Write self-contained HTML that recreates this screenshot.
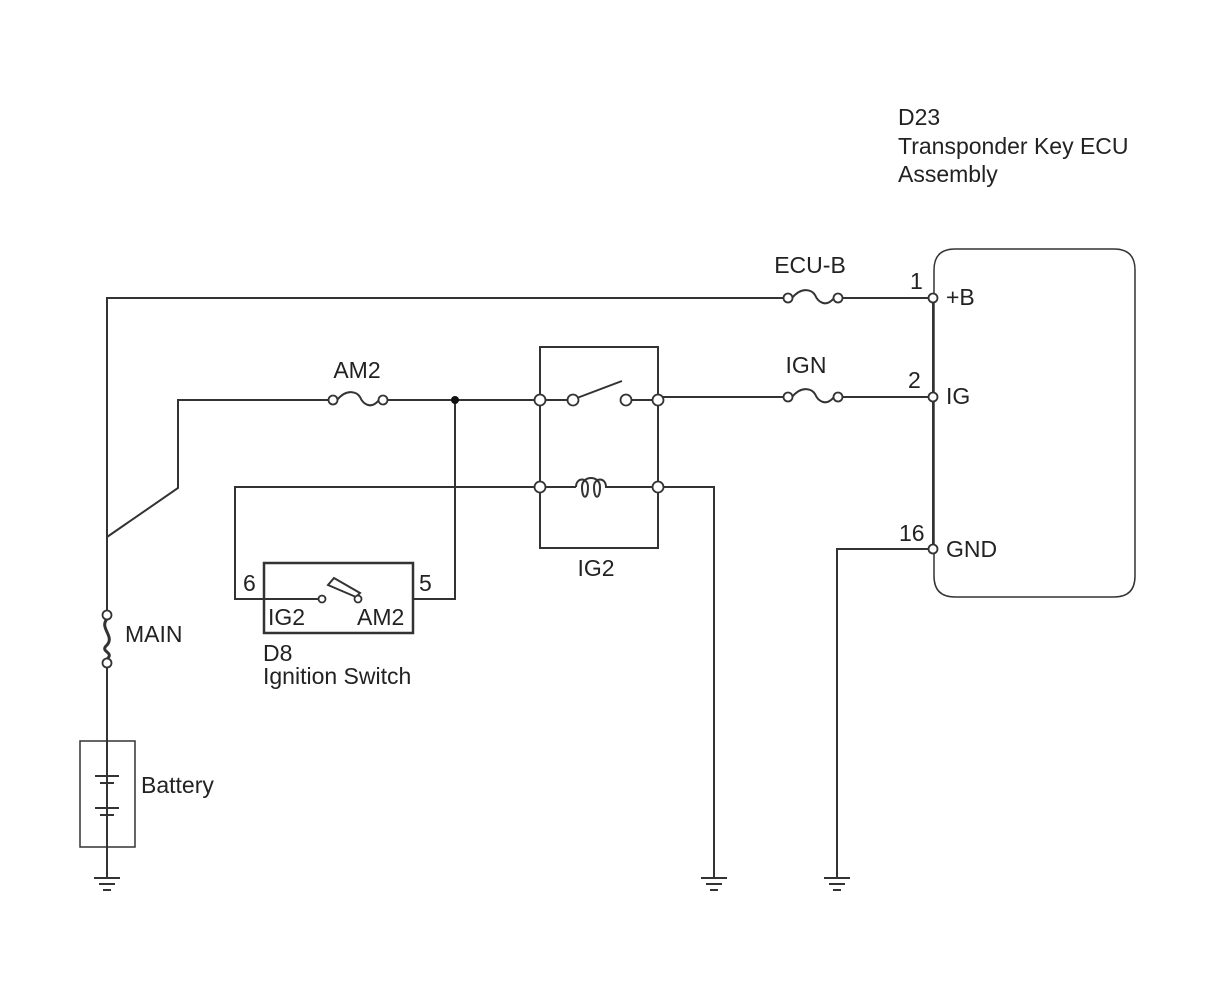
<!DOCTYPE html>
<html><head><style>
html,body{margin:0;padding:0;background:#fff;}
svg{display:block;}
text{font-family:"Liberation Sans",Arial,sans-serif;font-size:23px;fill:#222;}
</style></head><body>
<svg width="1210" height="986" viewBox="0 0 1210 986" xmlns="http://www.w3.org/2000/svg">
<g stroke="#333" stroke-width="2" fill="none">
<polyline points="107,615 107,298 784,298"/>
<line x1="842" y1="298" x2="929" y2="298"/>
<path d="M792,298 C802,286 812,290 815,295 C818,302 826,308 834,298"/>
<polyline points="107,537 178,488 178,400 329,400"/>
<line x1="387" y1="400" x2="536" y2="400"/>
<path d="M337,400 C347,388 357,392 360,397 C363,404 371,410 379,400"/>
<polyline points="455,400 455,599 413,599"/>
<polyline points="540,400 540,347 658,347 658,548 540,548 540,400"/>
<line x1="544" y1="400" x2="569" y2="400"/>
<line x1="577" y1="398" x2="622" y2="381"/>
<line x1="630" y1="400" x2="654" y2="400"/>
<line x1="544" y1="487" x2="576" y2="487"/>
<path d="M576,487 C576,477 588,477 588,487 C588,500 582,500 582,487 C582,475 600,475 600,487 C600,500 594,500 594,487 C594,477 606,477 606,487 L654,487"/>
<line x1="662" y1="397" x2="784" y2="397"/>
<line x1="842" y1="397" x2="929" y2="397"/>
<path d="M792,397 C802,385 812,389 815,394 C818,401 826,407 834,397"/>
<polyline points="536,487 235,487 235,599 264,599"/>
<polyline points="662,487 714,487 714,878"/>
<rect x="264" y="563" width="149" height="70" stroke-width="2.5"/>
<line x1="264" y1="599" x2="318" y2="599"/>
<path d="M328,585 L356,597 L360,593 L334,578 Z"/>
<path d="M934,549 L934,576 Q934,597 955,597 L1114,597 Q1135,597 1135,576 L1135,270 Q1135,249 1114,249 L955,249 Q934,249 934,270 Z" stroke-width="1.5"/>
<line x1="933" y1="298" x2="933" y2="549"/>
<polyline points="929,549 837,549 837,878"/>
<path d="M107,619 C99,628 115,636 107,645 C99,652 115,652 107,659" stroke-width="3"/>
<line x1="107" y1="667" x2="107" y2="878"/>
<rect x="80" y="741" width="55" height="106" stroke-width="1.5"/>
<line x1="95" y1="776" x2="119" y2="776"/>
<line x1="100" y1="783" x2="114" y2="783"/>
<line x1="95" y1="808" x2="119" y2="808"/>
<line x1="100" y1="815" x2="114" y2="815"/>
<g stroke-width="2">
<line x1="94" y1="878" x2="120" y2="878"/><line x1="99" y1="884" x2="115" y2="884"/><line x1="103" y1="890" x2="111" y2="890"/>
<line x1="701" y1="878" x2="727" y2="878"/><line x1="706" y1="884" x2="722" y2="884"/><line x1="710" y1="890" x2="718" y2="890"/>
<line x1="824" y1="878" x2="850" y2="878"/><line x1="829" y1="884" x2="845" y2="884"/><line x1="833" y1="890" x2="841" y2="890"/>
</g>
</g>
<g stroke="#333" stroke-width="1.8" fill="#fff">
<circle cx="788" cy="298" r="4.5"/><circle cx="838" cy="298" r="4.5"/><circle cx="933" cy="298" r="4.5"/>
<circle cx="333" cy="400" r="4.5"/><circle cx="383" cy="400" r="4.5"/>
<circle cx="540" cy="400" r="5.5"/><circle cx="573" cy="400" r="5.5"/><circle cx="626" cy="400" r="5.5"/><circle cx="658" cy="400" r="5.5"/>
<circle cx="540" cy="487" r="5.5"/><circle cx="658" cy="487" r="5.5"/>
<circle cx="788" cy="397" r="4.5"/><circle cx="838" cy="397" r="4.5"/><circle cx="933" cy="397" r="4.5"/>
<circle cx="933" cy="549" r="4.5"/>
<circle cx="322" cy="599" r="3.5"/><circle cx="358" cy="599" r="3.5"/>
<circle cx="107" cy="615" r="4.5"/><circle cx="107" cy="663" r="4.5"/>
</g>
<circle cx="455" cy="400" r="4" fill="#111"/>
<text x="898" y="125">D23</text>
<text x="898" y="154">Transponder Key ECU</text>
<text x="898" y="182">Assembly</text>
<text x="810" y="273" text-anchor="middle">ECU-B</text>
<text x="910" y="289">1</text>
<text x="946" y="305">+B</text>
<text x="806" y="373" text-anchor="middle">IGN</text>
<text x="908" y="388">2</text>
<text x="946" y="404">IG</text>
<text x="899" y="541">16</text>
<text x="946" y="557">GND</text>
<text x="357" y="378" text-anchor="middle">AM2</text>
<text x="596" y="576" text-anchor="middle">IG2</text>
<text x="243" y="591">6</text>
<text x="419" y="591">5</text>
<text x="268" y="625">IG2</text>
<text x="357" y="625">AM2</text>
<text x="263" y="661">D8</text>
<text x="263" y="684">Ignition Switch</text>
<text x="125" y="642">MAIN</text>
<text x="141" y="793">Battery</text>
</svg>
</body></html>
